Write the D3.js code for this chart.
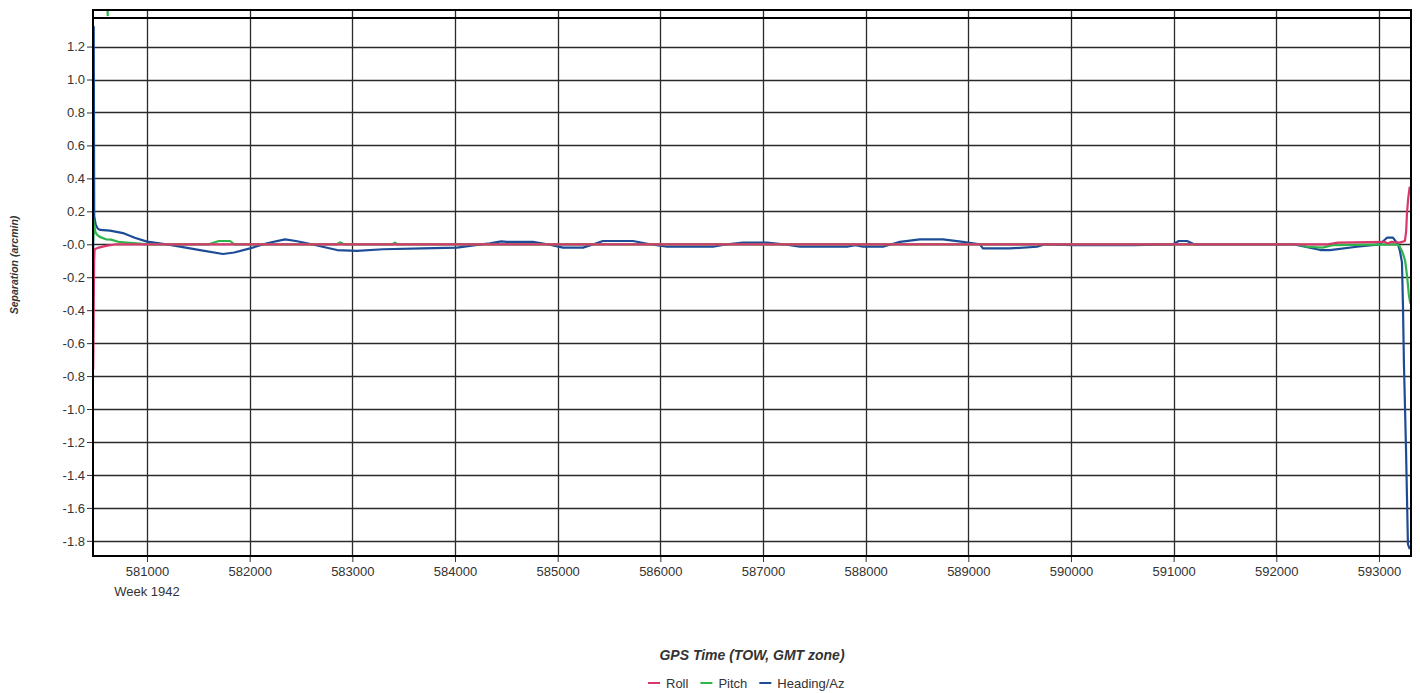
<!DOCTYPE html>
<html>
<head>
<meta charset="utf-8">
<script src="https://cdn.jsdelivr.net/npm/d3@7"></script>
<style>
  html, body { margin: 0; padding: 0; background: #fff; }
  svg { display: block; }
  text { font-family: "Liberation Sans", Arial, sans-serif; fill: #333; }
</style>
</head>
<body>
<svg id="chart" width="1420" height="693"></svg>
<script>
// ---------------- DATA ----------------
const xTicks = [581000, 582000, 583000, 584000, 585000, 586000, 587000, 588000, 589000, 590000, 591000, 592000, 593000];
const xTickLabels = ["581000", "582000", "583000", "584000", "585000", "586000", "587000", "588000", "589000", "590000", "591000", "592000", "593000"];
const weekLabel = "Week 1942";
const yTicks = [1.2, 1.0, 0.8, 0.6, 0.4, 0.2, 0.0, -0.2, -0.4, -0.6, -0.8, -1.0, -1.2, -1.4, -1.6, -1.8];
const yTickLabels = ["1.2", "1.0", "0.8", "0.6", "0.4", "0.2", "-0.0", "-0.2", "-0.4", "-0.6", "-0.8", "-1.0", "-1.2", "-1.4", "-1.6", "-1.8"];
const xDomain = [580474, 593312];
const yDomain = [-1.892, 1.422];
const seriesNames = ["Roll", "Pitch", "Heading/Az"];
const seriesColors = ["#d8386a", "#2fb44c", "#1d4c97"];

// [GPS time (s), separation (arcmin)]
const headingData = [
  [580476,-0.07],[580479,1.32],[580481,1.32],[580486,0.17],[580500,0.12],[580520,0.095],[580545,0.087],
  [580640,0.083],[580766,0.068],[580880,0.04],[581000,0.016],[581224,-0.004],[581516,-0.035],[581740,-0.059],
  [581850,-0.05],[582003,-0.025],[582169,0.006],[582344,0.03],[582450,0.02],[582558,0.006],[582851,-0.035],
  [583045,-0.04],[583299,-0.03],[583688,-0.025],[584019,-0.02],[584200,-0.005],[584341,0.006],[584450,0.018],
  [584506,0.015],[584759,0.015],[584900,0],[585052,-0.02],[585247,-0.02],[585350,0],[585441,0.02],[585734,0.02],
  [585900,0],[586065,-0.015],[586513,-0.015],[586650,0],[586805,0.01],[587039,0.01],[587200,0],[587360,-0.015],
  [587818,-0.015],[587900,-0.005],[587974,-0.015],[588169,-0.015],[588334,0.015],[588529,0.03],[588753,0.03],
  [588948,0.015],[589113,0],[589142,-0.025],[589405,-0.025],[589669,-0.015],[589750,0],[590019,-0.005],
  [590603,-0.005],[590993,0],[591050,0.02],[591130,0.02],[591200,0],[592162,0],[592327,-0.02],[592430,-0.035],
  [592522,-0.035],[592785,-0.015],[593009,0],[593078,0.04],[593136,0.04],[593185,0],[593204,-0.04],
  [593224,-0.11],[593234,-0.38],[593243,-0.72],[593263,-1.23],[593282,-1.82],[593300,-1.85]
];
const pitchData = [
  [580476,0.02],[580479,0.15],[580482,0.06],[580486,0.12],[580495,0.08],[580510,0.06],[580540,0.045],
  [580600,0.03],[580650,0.028],[580720,0.015],[580800,0.01],[580900,0.005],[581000,0],[581600,0],
  [581700,0.02],[581810,0.02],[581850,0],[582850,0],[582880,0.012],[582920,0],[583390,0],[583415,0.01],
  [583440,0],[592200,0],[592300,-0.015],[592450,-0.02],[592550,-0.005],[593170,0],[593200,-0.01],
  [593230,-0.05],[593255,-0.1],[593275,-0.2],[593290,-0.3],[593305,-0.36]
];
const pitchSpike = [[580616,1.42],[580618,1.385]];
const rollData = [
  [580476,-0.76],[580478,-0.64],[580481,-0.4],[580485,-0.1],[580490,-0.03],[580530,-0.02],[580600,-0.01],
  [580700,0],[592500,0],[592600,0.01],[593050,0.015],[593090,0.005],[593120,0.015],[593200,0.01],
  [593253,0.02],[593265,0.08],[593273,0.19],[593285,0.28],[593300,0.35]
];

// ---------------- LAYOUT ----------------
const plot = { left: 93, right: 1411, top: 10, bottom: 556 };
const svg = d3.select("#chart");

const x = d3.scaleLinear().domain(xDomain).range([plot.left, plot.right]);
const y = d3.scaleLinear().domain(yDomain).range([plot.bottom, plot.top]);

// grid lines
const grid = svg.append("g");
grid.selectAll("line.h").data(yTicks).join("line")
  .attr("x1", plot.left).attr("x2", plot.right)
  .attr("y1", d => Math.round(y(d)) + 0.5).attr("y2", d => Math.round(y(d)) + 0.5)
  .attr("stroke", "#2a2a2a").attr("stroke-width", 1.3);
grid.selectAll("line.v").data(xTicks).join("line")
  .attr("x1", d => Math.round(x(d)) + 0.5).attr("x2", d => Math.round(x(d)) + 0.5)
  .attr("y1", plot.top).attr("y2", plot.bottom)
  .attr("stroke", "#2a2a2a").attr("stroke-width", 1.3);

// axes
const yAxis = d3.axisLeft(y).tickValues(yTicks).tickSize(6).tickPadding(2)
  .tickFormat((d, i) => yTickLabels[i]);
const gy = svg.append("g").attr("transform", `translate(${plot.left},0)`).call(yAxis);
gy.select(".domain").remove();
gy.selectAll(".tick line").attr("stroke", "#333");
gy.selectAll(".tick text").style("font-size", "13px").attr("fill", "#333")
  .style("font-family", '"Liberation Sans", Arial, sans-serif');

const xAxis = d3.axisBottom(x).tickValues(xTicks).tickSize(6).tickPadding(5)
  .tickFormat((d, i) => xTickLabels[i]);
const gx = svg.append("g").attr("transform", `translate(0,${plot.bottom})`).call(xAxis);
gx.select(".domain").remove();
gx.selectAll(".tick line").attr("stroke", "#333");
gx.selectAll(".tick text").style("font-size", "13px").attr("fill", "#333")
  .style("font-family", '"Liberation Sans", Arial, sans-serif');

svg.append("text")
  .attr("x", x(xTicks[0])).attr("y", 596)
  .attr("text-anchor", "middle").style("font-size", "13px")
  .text(weekLabel);

// series lines
svg.append("clipPath").attr("id", "clip").append("rect")
  .attr("x", plot.left).attr("y", plot.top)
  .attr("width", plot.right - plot.left).attr("height", plot.bottom - plot.top);

const line = d3.line().x(d => x(d[0])).y(d => y(d[1]));
const lines = svg.append("g").attr("clip-path", "url(#clip)");
const drawOrder = [
  { data: headingData, color: seriesColors[2] },
  { data: pitchData, color: seriesColors[1] },
  { data: pitchSpike, color: seriesColors[1] },
  { data: rollData, color: seriesColors[0] }
];
drawOrder.forEach(s => {
  lines.append("path").datum(s.data)
    .attr("d", line).attr("fill", "none")
    .attr("stroke", s.color).attr("stroke-width", 2.2)
    .attr("stroke-linejoin", "round");
});

// frame
svg.append("rect")
  .attr("x", plot.left).attr("y", plot.top)
  .attr("width", plot.right - plot.left).attr("height", plot.bottom - plot.top)
  .attr("fill", "none").attr("stroke", "#000").attr("stroke-width", 2);
svg.append("line")
  .attr("x1", plot.left).attr("x2", plot.right).attr("y1", 18).attr("y2", 18)
  .attr("stroke", "#000").attr("stroke-width", 2);

// axis titles
svg.append("text")
  .attr("x", (plot.left + plot.right) / 2 + 0).attr("y", 660)
  .attr("text-anchor", "middle")
  .style("font-size", "14px").style("font-weight", "bold").style("font-style", "italic")
  .text("GPS Time (TOW, GMT zone)");

svg.append("text")
  .attr("transform", "translate(18,265) rotate(-90)")
  .attr("text-anchor", "middle")
  .style("font-size", "10.5px").style("font-weight", "bold").style("font-style", "italic")
  .text("Separation (arcmin)");

// legend
const legend = svg.append("g").attr("transform", "translate(648,683)");
let lx = 0;
seriesNames.forEach((name, i) => {
  legend.append("line").attr("x1", lx).attr("x2", lx + 12).attr("y1", 0).attr("y2", 0)
    .attr("stroke", seriesColors[i]).attr("stroke-width", 2);
  const t = legend.append("text").attr("x", lx + 18).attr("y", 4.5)
    .style("font-size", "13px").text(name);
  lx += 18 + t.node().getComputedTextLength() + 12;
});
</script>
</body>
</html>
